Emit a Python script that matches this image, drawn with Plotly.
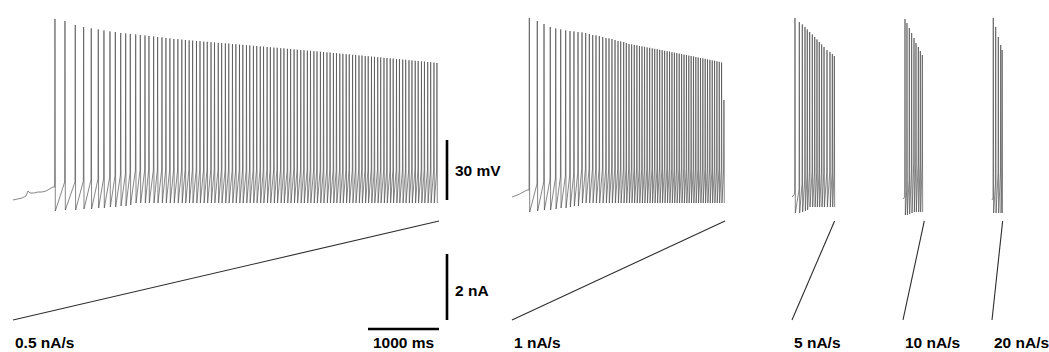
import plotly.graph_objects as go

# ---------------- data ----------------
RATES = ["0.5 nA/s", "1 nA/s", "5 nA/s", "10 nA/s", "20 nA/s"]
RAMP_DUR_MS = [6000, 3000, 600, 300, 150]      # duration of each current ramp
RAMP_START_NA = [0.0, 0.0, 0.0, 0.0, 0.0]
RAMP_END_NA = [3.0, 3.0, 3.0, 3.0, 3.0]

# sub-threshold trace before the first spike (ms, mV)
PRE1_T = [0, 70, 127, 183, 211, 239, 296, 352, 408, 465, 521, 563]
PRE1_V = [-60, -59.5, -59, -58, -55.5, -56.5, -56.5, -56, -56, -55.5, -54.5, -53.5]
PRE2_T = [0, 110, 211]
PRE2_V = [-58.5, -57, -55]
PRE3_T = [0, 30]
PRE3_V = [-58.5, -57]
PRE4_T = [0, 18]
PRE4_V = [-59.5, -58.5]
PRE5_T = [0, 10]
PRE5_V = [-60, -59]

# spike times (ms from ramp onset) and spike peaks (mV)
T1 = [591, 732, 877, 995, 1102, 1201, 1281, 1366, 1441, 1517, 1587, 1652, 1728, 1793,
      1859, 1915, 1981, 2037, 2098, 2154, 2210, 2266, 2322, 2378, 2428,
      2481, 2530, 2584, 2634, 2687, 2736, 2789, 2838, 2891, 2939, 2991, 3039, 3091, 3139,
      3190, 3237, 3288, 3335, 3386, 3433, 3483, 3529, 3579, 3625, 3675, 3721, 3771, 3816,
      3865, 3910, 3959, 4004, 4053, 4098, 4146, 4190, 4238, 4282, 4330, 4374, 4422, 4466,
      4513, 4556, 4603, 4646, 4693, 4736, 4783, 4826, 4873, 4915, 4961, 5003, 5049, 5091,
      5137, 5179, 5225, 5267, 5313, 5355, 5401, 5443, 5489, 5531, 5577, 5619, 5665, 5707,
      5753, 5795, 5841, 5883, 5929, 5971]
P1 = [30.5, 29.5, 27.5, 26.5, 25.8, 25.3, 24.8, 24.3, 24, 23.5, 23.3, 23, 22.8, 22.5,
      22.3, 22, 21.8, 21.5, 21.3, 21, 20.8, 20.5, 20.4, 20.2, 20,
      19.8, 19.7, 19.5, 19.4, 19.2, 19.1, 18.9, 18.8, 18.6, 18.5, 18.3, 18.2, 18.0, 17.9,
      17.7, 17.6, 17.4, 17.3, 17.1, 17.0, 16.8, 16.7, 16.5, 16.4, 16.2, 16.1, 15.9, 15.8,
      15.6, 15.5, 15.3, 15.2, 15.0, 14.9, 14.7, 14.6, 14.4, 14.3, 14.1, 14.0, 13.8, 13.7,
      13.5, 13.4, 13.2, 13.1, 12.9, 12.8, 12.6, 12.5, 12.3, 12.2, 12.0, 11.9, 11.7, 11.6,
      11.4, 11.3, 11.1, 11.0, 10.8, 10.7, 10.5, 10.4, 10.2, 10.1, 9.9, 9.8, 9.6, 9.5,
      9.3, 9.2, 9.0, 8.9, 8.7, 8.5]

T2 = [244, 356, 451, 539, 616, 686, 756, 817, 873, 930, 986, 1038, 1089, 1137, 1183,
      1230, 1278, 1324, 1366, 1408, 1451, 1493, 1531, 1573, 1610, 1648,
      1685, 1722, 1759, 1795, 1831, 1867, 1903, 1939, 1975, 2010, 2045, 2080, 2115, 2150,
      2185, 2219, 2253, 2287, 2321, 2355, 2389, 2423, 2457, 2490, 2523, 2556, 2589, 2622,
      2655, 2688, 2721, 2754, 2787, 2820, 2853, 2886, 2919, 2952, 2985]
P2 = [31, 29.5, 28, 26.5, 25.8, 25.3, 24.8, 24.5, 24.3, 24, 23.8, 23.5, 23, 22.5, 22.3,
      22, 21.5, 21, 20.8, 20.5, 20, 19.5, 19.3, 19, 18.5, 18,
      17.8, 17.5, 17.3, 17.0, 16.8, 16.6, 16.3, 16.1, 15.8, 15.6, 15.4, 15.1, 14.9, 14.6,
      14.4, 14.2, 13.9, 13.7, 13.4, 13.2, 13.0, 12.7, 12.5, 12.2, 12.0, 11.8, 11.5, 11.3,
      11.0, 10.8, 10.6, 10.3, 10.1, 9.8, 9.6, 9.4, 9.1, 8.8, -10]

T3 = [42, 103, 145, 183, 215, 249, 286, 320, 352, 384, 418, 451, 493, 535, 568, 596]
P3 = [31, 29, 27.8, 26.5, 25.3, 24, 22.8, 21.5, 20.3, 19, 17.8, 16.5, 15, 14, 13, 12]

T4 = [28, 56, 89, 122, 155, 183, 216, 244, 272]
P4 = [30.5, 28.5, 26, 23.5, 21, 18.5, 16.5, 14.5, 12.5]

T5 = [18, 52, 89, 123, 143]
P5 = [31, 26.5, 21.5, 17.5, 15]

# level reached just before each spike (threshold) and after-hyperpolarisation (mV):
# first spikes listed, later spikes sit at the steady level
THR1_EARLY = [-53.5, -51, -51, -50.5, -50, -49.5, -49, -48.5, -48, -47.5, -47, -46.5]
AHP1_EARLY = [-65.5, -65, -65, -64.5, -64.5, -64, -64, -63.5, -63.5, -63, -63, -62.5]
THR2_EARLY = [-55, -52, -51, -50, -49, -48.5, -48, -47.5, -47, -46.5]
AHP2_EARLY = [-66, -65.5, -65, -65, -64.5, -64, -64, -63.5, -63, -63]
THR3_EARLY = [-57, -55, -52, -50, -48]
AHP3_EARLY = [-66.5, -66.5, -66, -65.5, -65]
THR4_EARLY = [-58.5, -55, -50, -46]
AHP4_EARLY = [-67.5, -67.5, -67, -66.5]
THR5_EARLY = [-59, -52, -47]
AHP5_EARLY = [-66.5, -66.5, -66.5]
THR_LATE = [-45, -44.5, -46.5, -42, -46.5]
AHP_LATE = [-61.5, -61.5, -63.5, -66, -66.5]

SCALE_T_MS = 1000
SCALE_V_MV = 30
SCALE_I_NA = 2

# ---------------- layout constants ----------------
W, H = 1049, 352
MS_PER_PX = 1000 / 71.0
PANEL_X0_PX = [13, 512, 792, 903, 992]
BAR_X_PX = 447
Y_MV_RANGE = [-136, 40]           # 2 px per mV
Y_NA_RANGE = [-0.97, 9.697]       # 33 px per nA

panels = [
    (PRE1_T, PRE1_V, T1, P1, THR1_EARLY, AHP1_EARLY),
    (PRE2_T, PRE2_V, T2, P2, THR2_EARLY, AHP2_EARLY),
    (PRE3_T, PRE3_V, T3, P3, THR3_EARLY, AHP3_EARLY),
    (PRE4_T, PRE4_V, T4, P4, THR4_EARLY, AHP4_EARLY),
    (PRE5_T, PRE5_V, T5, P5, THR5_EARLY, AHP5_EARLY),
]

fig = go.Figure()
offsets = [px * MS_PER_PX for px in PANEL_X0_PX]

for k, (pre_t, pre_v, ts, ps, thr_e, ahp_e) in enumerate(panels):
    off = offsets[k]
    xs = [off + t for t in pre_t]
    ys = list(pre_v)
    for i, (t, p) in enumerate(zip(ts, ps)):
        thr = thr_e[i] if i < len(thr_e) else THR_LATE[k]
        ahp = ahp_e[i] if i < len(ahp_e) else AHP_LATE[k]
        xs += [off + t - 4, off + t, off + t + 5]
        ys += [thr, p, ahp]
    fig.add_trace(go.Scatter(x=xs, y=ys, mode="lines",
                             line=dict(color="rgba(70,70,70,0.72)", width=0.9),
                             hoverinfo="skip", yaxis="y"))
    # current ramp
    fig.add_trace(go.Scatter(x=[off, off + RAMP_DUR_MS[k]],
                             y=[RAMP_START_NA[k], RAMP_END_NA[k]],
                             mode="lines", line=dict(color="rgb(45,45,45)", width=1.1),
                             hoverinfo="skip", yaxis="y2"))

# scale bars
t_end1 = offsets[0] + RAMP_DUR_MS[0]
bar_x = BAR_X_PX * MS_PER_PX
shapes = [
    dict(type="line", xref="x", yref="y", x0=t_end1 - SCALE_T_MS, x1=t_end1,
         y0=-124.5, y1=-124.5, line=dict(color="black", width=2.6)),
    dict(type="line", xref="x", yref="y", x0=bar_x, x1=bar_x,
         y0=-60, y1=-60 + SCALE_V_MV, line=dict(color="black", width=2.6)),
    dict(type="line", xref="x", yref="y2", x0=bar_x, x1=bar_x,
         y0=0, y1=SCALE_I_NA, line=dict(color="black", width=2.6)),
]

font = dict(family="Liberation Sans, Arial, sans-serif", size=15.5, color="black")
ann = []
for k, lab in enumerate(RATES):
    ann.append(dict(x=offsets[k], y=-131, xref="x", yref="y", text="<b>%s</b>" % lab,
                    showarrow=False, xanchor="left", yanchor="middle", font=font))
ann.append(dict(x=t_end1 - SCALE_T_MS / 2, y=-131, xref="x", yref="y",
                text="<b>%d ms</b>" % SCALE_T_MS, showarrow=False,
                xanchor="center", yanchor="middle", font=font))
ann.append(dict(x=bar_x, y=-60 + SCALE_V_MV / 2, xref="x", yref="y",
                text="<b>%d mV</b>" % SCALE_V_MV, showarrow=False, xshift=6,
                xanchor="left", yanchor="middle", font=font))
ann.append(dict(x=bar_x, y=SCALE_I_NA / 2, xref="x", yref="y2",
                text="<b>%d nA</b>" % SCALE_I_NA, showarrow=False, xshift=6, yshift=-4,
                xanchor="left", yanchor="middle", font=font))

fig.update_layout(
    width=W, height=H, autosize=False,
    margin=dict(l=0, r=0, t=0, b=0, pad=0),
    paper_bgcolor="white", plot_bgcolor="white",
    showlegend=False,
    xaxis=dict(range=[0, W * MS_PER_PX], visible=False, fixedrange=True),
    yaxis=dict(range=Y_MV_RANGE, visible=False, fixedrange=True),
    yaxis2=dict(range=Y_NA_RANGE, visible=False, overlaying="y", fixedrange=True),
    shapes=shapes, annotations=ann,
)

fig.write_html(
    "out.html",
    config={"displayModeBar": False},
    post_script="document.body.style.margin='0';document.body.style.padding='0';"
                "document.body.style.overflow='hidden';",
)
